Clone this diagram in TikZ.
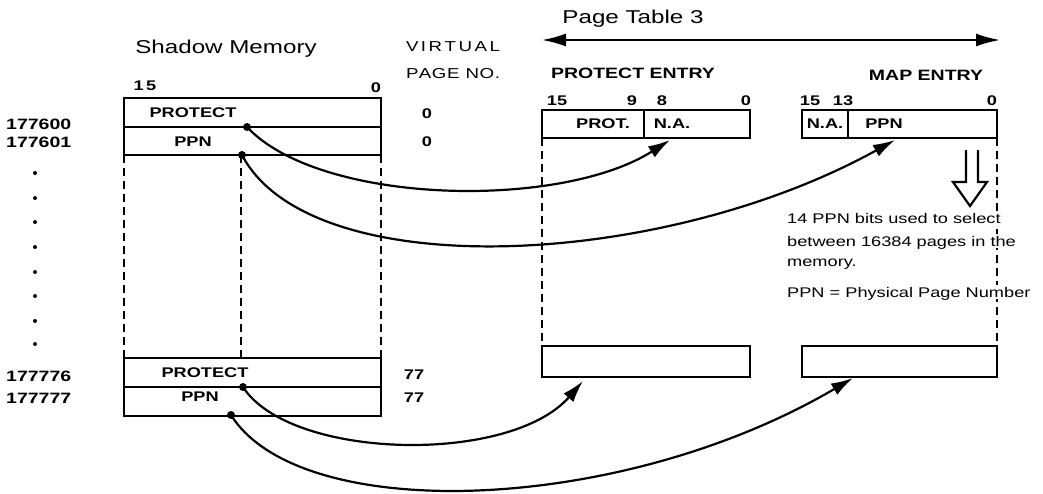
\documentclass[tikz,border=0pt]{standalone}
\usepackage{fontspec}
\setmainfont{Liberation Sans}[FakeStretch=1.3]
\usetikzlibrary{arrows.meta}
\begin{document}
\begin{tikzpicture}[x=0.5pt,y=-0.5pt, line width=1.2pt,
  title/.style={font=\fontsize{9.3}{10}\selectfont, inner sep=0pt, text depth=0pt},
  lbl/.style={font=\fontsize{7}{8}\selectfont\bfseries, inner sep=0pt},
  addr/.style={font=\fontsize{7.5}{8}\selectfont\bfseries, inner sep=0pt, anchor=west},
  hdr/.style={font=\fontsize{7.5}{8}\selectfont\bfseries, inner sep=0pt},
  vpn/.style={font=\fontsize{7.2}{8}\selectfont, inner sep=0pt},
  note/.style={font=\fontsize{7}{8}\selectfont, inner sep=1pt, anchor=west, fill=white, text depth=0pt},
  dashline/.style={dash pattern=on 4pt off 2.5pt, line width=1.1pt},
  conn/.style={-{Latex[length=11pt,width=6.5pt]}, line width=1.1pt},
  dotc/.style={circle, fill, inner sep=0pt, minimum size=4pt},
  dbl/.style={{Latex[length=12pt,width=6.5pt]}-{Latex[length=12pt,width=6.5pt]}, line width=1pt}
]
\useasboundingbox (0,0) rectangle (1043,493);

% ---------------- Shadow memory ----------------
\node[title] (smt) at (226,47) {Shadow Memory};
\node[vpn] (vp1) at (453,47) {\makebox[47pt][s]{V\hfil I\hfil R\hfil T\hfil U\hfil A\hfil L}};
\node[vpn] (vp2) at (453,74) {\makebox[47pt][s]{P\hfil A\hfil G\hfil E\hfil\ \hfil N\hfil O\hfil .}};
\node[lbl] (sb15) at (145,86) {1\,5};
\node[lbl] (sb0) at (376,88) {0};

\draw (124,98) rectangle (381,127);
\draw (124,127) rectangle (381,155);
\draw[dashline] (124,155) -- (124,358);
\draw[dashline] (241,155) -- (241,358);
\draw[dashline] (381,155) -- (381,358);
\draw (124,358) rectangle (381,387);
\draw (124,387) rectangle (381,416);

\node[lbl] (sp1) at (193,113) {PROTECT};
\node[lbl] (sn1) at (193,142) {PPN};
\node[lbl] (sp2) at (205,373) {PROTECT};
\node[lbl] (sn2) at (200,397) {PPN};

\node[addr] (a1) at (5,124) {177600};
\node[addr] (a2) at (5,142) {177601};
\node[addr] (a3) at (5,376) {177776};
\node[addr] (a4) at (5,398) {177777};
\foreach \i/\yy in {1/173,2/198,3/222,4/247,5/272,6/296,7/321,8/344}
  \fill (35,\yy) circle (1pt) coordinate (vd\i);

\node[lbl] (v1) at (427,114) {0};
\node[lbl] (v2) at (427,142) {0};
\node[lbl] (v3) at (414,375) {77};
\node[lbl] (v4) at (414,398) {77};

% ---------------- Page table 3 ----------------
\node[title] (ptt) at (633,17) {Page Table 3};
\coordinate (ptl) at (542,40);
\coordinate (ptr) at (1000,40);
\draw[dbl] (ptl) -- (ptr);

\node[hdr] (pent) at (633,73) {PROTECT ENTRY};
\node[hdr] (ment) at (926,75) {MAP ENTRY};

\node[lbl] (pb15) at (557,101) {15};
\node[lbl] (pb9) at (632,101) {9};
\node[lbl] (pb8) at (662,101) {8};
\node[lbl] (pb0) at (746,101) {0};
\node[lbl] (mb15) at (810,101) {15};
\node[lbl] (mb13) at (843,101) {13};
\node[lbl] (mb0) at (992,101) {0};

\draw (542,110) rectangle (750,138);
\draw (644,110) -- (644,138);
\node[lbl] (prot) at (603,124) {PROT.};
\node[lbl] (pna) at (672,124) {N.A.};

\draw (802,110) rectangle (997,138);
\draw (848,110) -- (848,138);
\node[lbl] (mna) at (825,124) {N.A.};
\node[lbl] (mppn) at (884,124) {PPN};

\draw[dashline] (542,138) -- (542,346);
\draw[dashline] (997,138) -- (997,346);

\draw (542,346) rectangle (750,377);
\draw (802,346) rectangle (997,377);

% hollow arrow
\draw[line width=1.1pt, line join=miter]
  (966,150) -- (966,182) -- (953,182) -- (970,206) -- (987,182) -- (978,182) -- (978,150);

% note
\node[note] (n1) at (784,218) {14 PPN bits used to select};
\node[note] (n2) at (784,241) {between 16384 pages in the};
\node[note] (n3) at (784,263) {memory.};
\node[note] (n4) at (784,292) {PPN = Physical Page Number};

% ---------------- connectors ----------------
\node[dotc] (d1) at (247,127) {};
\node[dotc] (d2) at (242,155) {};
\node[dotc] (d3) at (243,387) {};
\node[dotc] (d4) at (231,415) {};
\coordinate (t1) at (670,140);
\coordinate (t2) at (895,140);
\coordinate (t3) at (583,381);
\coordinate (t4) at (853,378);

\draw[conn] (d1.center) .. controls (320,205) and (560,210) .. (t1);
\draw[conn] (d2.center) .. controls (310,285) and (660,270) .. (t2);
\draw[conn] (d3.center) .. controls (290,460) and (510,465) .. (t3);
\draw[conn] (d4.center) .. controls (300,525) and (620,515) .. (t4);
\end{tikzpicture}
\end{document}
